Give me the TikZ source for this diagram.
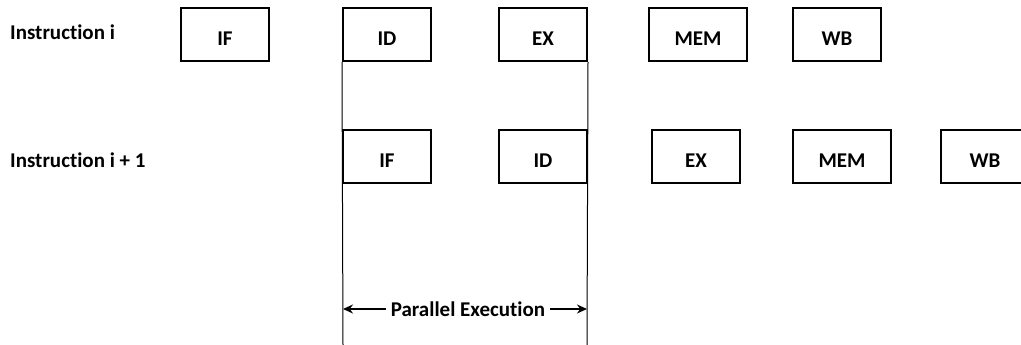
\documentclass[tikz,border=0pt]{standalone}
\usepackage{fontspec}
\setmainfont[Ligatures=NoCommon]{Carlito}
\usetikzlibrary{arrows.meta,positioning}

\begin{document}
\begin{tikzpicture}[x=1pt,y=-1pt,
    stage/.style={draw,line width=2pt,minimum width=88pt,minimum height=53pt,
      font=\fontsize{21}{24}\selectfont\bfseries,inner sep=0pt,
      text height=23pt,text depth=0pt},
    wide/.style={minimum width=98pt},
    lbl/.style={font=\fontsize{21}{24}\selectfont\bfseries,inner sep=0pt,anchor=west}]
 \useasboundingbox (0,0) rectangle (1021,345);
    % pipeline stages of both instructions
    \node[lbl] (ins1) at (10,32) {Instruction i};
    \node[lbl] (ins2) at (10,160) {Instruction i + 1};
    \foreach \name/\x/\txt/\st in {a1/225/IF/stage,a2/387/ID/stage,a3/543/EX/stage,a4/698/MEM/wide,a5/837/WB/stage}
      \node[stage,\st] (\name) at (\x,34.5) {\txt};
    \foreach \name/\x/\txt/\st in {b1/387/IF/stage,b2/543/ID/stage,b3/696/EX/stage,b4/842/MEM/wide,b5/985/WB/stage}
      \node[stage,\st] (\name) at (\x,156) {\txt};
    % overlap marks
    \coordinate (l) at (343,345);
    \coordinate (r) at (587,345);
    \draw[line width=1pt] (a2.south west) -- (l);
    \draw[line width=1pt] (a3.south east) -- (r);
    \node[font=\fontsize{21}{24}\selectfont\bfseries,inner sep=5pt] (par) at (468,309) {Parallel Execution};
    \draw[-{Stealth[length=10pt,width=9pt]},line width=1.5pt] (par.west) -- (par.west -| l);
    \draw[-{Stealth[length=10pt,width=9pt]},line width=1.5pt] (par.east) -- (par.east -| r);
\end{tikzpicture}
\end{document}
